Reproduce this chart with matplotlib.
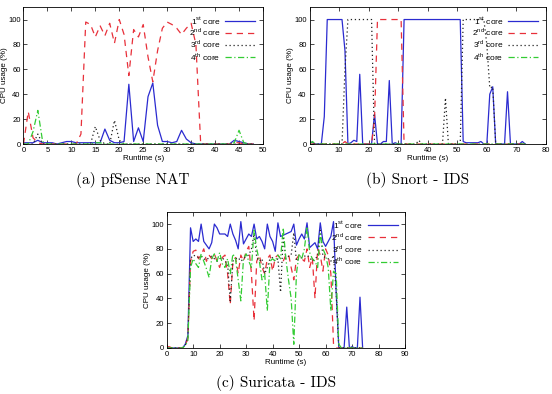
# CPU usage per core, three captured runs

import matplotlib
matplotlib.use('Agg')
import matplotlib.pyplot as plt

# pfSense NAT
pf_t = list(range(0, 49))
pf_c1 = [1, 1, 1, 3, 1, 1, 1, 0, 1, 2, 2, 1, 1, 1, 1, 1, 1, 12, 3, 1,
         1, 2, 48, 2, 13, 2, 38, 49, 15, 2, 2, 1, 2, 11, 4, 1, 0, 0, 0, 0,
         0, 0, 0, 0, 3, 2, 1, 0, 0]
pf_c2 = [0, 26, 5, 1, 0, 0, 0, 0, 0, 0, 0, 0, 8, 98, 96, 86, 95, 87, 97, 81,
         100, 88, 55, 92, 86, 96, 70, 50, 75, 93, 98, 96, 93, 88, 93, 97, 80, 0, 0, 0,
         0, 0, 0, 0, 1, 1, 0, 0, 0]
pf_c3 = [0, 0, 0, 8, 0, 0, 0, 0, 0, 0, 0, 0, 0, 0, 0, 14, 3, 0, 0, 19,
         3, 0, 0, 0, 0, 0, 0, 0, 0, 0, 0, 0, 0, 0, 0, 0, 0, 0, 0, 0,
         0, 0, 0, 0, 0, 0, 0, 0, 0]
pf_c4 = [0, 0, 10, 27, 2, 0, 0, 0, 0, 0, 0, 0, 0, 0, 0, 1, 1, 0, 0, 0,
         0, 0, 0, 0, 0, 0, 0, 0, 0, 0, 0, 0, 0, 0, 0, 0, 0, 0, 0, 0,
         0, 0, 0, 0, 1, 11, 1, 0, 0]

# Snort IDS
sn_t = list(range(0, 74))
sn_c1 = [2, 1, 0, 0, 0, 22, 100, 100, 100, 100, 100, 100, 75, 0, 1, 3, 2, 56, 0, 0,
         0, 0, 24, 0, 0, 2, 2, 51, 0, 1, 0, 0, 100, 100, 100, 100, 100, 100, 100, 100,
         100, 100, 100, 100, 100, 100, 100, 100, 100, 100, 100, 100, 2, 1, 1, 1, 1, 1, 2, 0,
         0, 40, 46, 0, 0, 0, 0, 42, 0, 0, 0, 0, 2, 0]
sn_c2 = [0, 0, 0, 0, 0, 0, 0, 0, 0, 0, 0, 0, 2, 0, 0, 0, 0, 0, 0, 0,
         0, 0, 20, 100, 100, 100, 100, 100, 100, 100, 100, 100, 0, 0, 0, 0, 0, 0, 0, 0,
         0, 0, 0, 0, 0, 0, 0, 0, 0, 0, 0, 0, 0, 0, 0, 0, 0, 0, 0, 0,
         0, 0, 0, 0, 0, 0, 0, 0, 0, 0, 0, 0, 0, 0]
sn_c3 = [0, 0, 0, 0, 0, 0, 0, 0, 0, 0, 0, 0, 60, 100, 100, 100, 100, 100, 100, 100,
         100, 100, 0, 0, 0, 0, 0, 0, 0, 0, 0, 0, 0, 0, 0, 0, 0, 3, 0, 0,
         0, 0, 0, 0, 0, 0, 37, 0, 0, 0, 0, 0, 100, 100, 100, 100, 100, 100, 100, 100,
         80, 45, 46, 0, 0, 0, 0, 0, 0, 0, 0, 0, 0, 0]
sn_c4 = [0, 2, 0, 0, 0, 0, 0, 0, 0, 0, 0, 0, 0, 0, 0, 0, 0, 0, 0, 0,
         0, 0, 0, 0, 0, 0, 0, 0, 0, 0, 0, 0, 0, 0, 0, 0, 0, 0, 0, 0,
         0, 0, 0, 0, 0, 0, 0, 0, 0, 0, 0, 0, 0, 0, 0, 0, 0, 0, 0, 0,
         0, 0, 0, 0, 0, 0, 0, 0, 0, 0, 0, 0, 0, 0]

# Suricata IDS
su_t = list(range(0, 75))
su_c1 = [0, 0, 0, 0, 0, 0, 0, 3, 10, 97, 86, 88, 86, 100, 86, 83, 80, 85, 100, 97,
         92, 92, 92, 90, 100, 92, 87, 80, 102, 84, 88, 92, 90, 100, 88, 90, 86, 80, 100, 90,
         86, 78, 101, 90, 91, 92, 93, 94, 100, 83, 88, 92, 88, 101, 81, 83, 85, 80, 101, 86,
         82, 86, 90, 102, 45, 0, 0, 0, 33, 0, 1, 0, 0, 41, 0]
su_c2 = [1, 1, 0, 0, 0, 0, 0, 2, 8, 70, 78, 79, 72, 75, 80, 70, 75, 72, 76, 70,
         65, 73, 75, 60, 35, 70, 73, 60, 75, 70, 78, 82, 60, 22, 70, 75, 65, 60, 72, 75,
         62, 73, 75, 72, 70, 75, 76, 65, 55, 72, 75, 72, 70, 80, 65, 73, 40, 80, 75, 62,
         80, 75, 60, 3, 0, 0, 0, 0, 0, 0, 0, 0, 0, 0, 0]
su_c3 = [0, 0, 0, 0, 0, 0, 0, 2, 8, 72, 75, 74, 73, 74, 72, 71, 73, 74, 72, 70,
         72, 73, 70, 68, 38, 70, 72, 73, 70, 72, 74, 75, 80, 92, 73, 70, 72, 60, 65, 72,
         73, 70, 72, 45, 90, 72, 74, 75, 93, 70, 72, 73, 74, 75, 73, 70, 72, 74, 95, 74,
         73, 72, 70, 75, 45, 0, 0, 0, 0, 0, 0, 0, 0, 0, 0]
su_c4 = [0, 0, 0, 0, 0, 0, 0, 2, 6, 65, 72, 68, 65, 76, 70, 64, 57, 72, 76, 70,
         77, 68, 65, 72, 60, 76, 72, 55, 38, 72, 76, 70, 65, 95, 80, 70, 55, 60, 30, 70,
         72, 70, 75, 72, 97, 72, 55, 40, 3, 60, 76, 72, 80, 98, 77, 72, 70, 65, 92, 80,
         75, 65, 30, 62, 60, 3, 0, 0, 0, 0, 0, 0, 0, 0, 0]

labels = ['1$^{\\mathrm{st}}$ core', '2$^{\\mathrm{nd}}$ core',
          '3$^{\\mathrm{rd}}$ core', '4$^{\\mathrm{th}}$ core']
styles = [dict(color='#2b2bd0', ls='-'),
          dict(color='#e8303a', ls=(0, (5, 4))),
          dict(color='#222222', ls=(0, (1, 2.2))),
          dict(color='#33cc33', ls=(0, (5, 2, 1, 2)))]

plt.rcParams['font.family'] = ['Liberation Sans', 'DejaVu Sans']
plt.rcParams['mathtext.fontset'] = 'custom'
plt.rcParams['mathtext.rm'] = 'Liberation Sans'

fig = plt.figure(figsize=(5.52, 3.94), dpi=100)


def draw(rect, t, cores, xmax, xstep):
    ax = fig.add_axes(rect)
    for y, st, lab in zip(cores, styles, labels):
        ax.plot(t, y, lw=0.9, label=lab, **st)
    ax.set_xlim(0, xmax)
    ax.set_ylim(0, 110)
    ax.set_xticks(range(0, xmax + 1, xstep))
    ax.set_yticks(range(0, 101, 20))
    ax.tick_params(direction='in', top=True, right=True, labelsize=5.5,
                   length=3, width=0.5, pad=2)
    for s in ax.spines.values():
        s.set_linewidth(0.6)
    ax.set_xlabel('Runtime (s)', fontsize=5.8, labelpad=1)
    ax.set_ylabel('CPU usage (%)', fontsize=5.8)
    # place the y label about 16 px left of the frame
    w = rect[2] * 552
    ax.yaxis.set_label_coords(-15.5 / w, 0.5)
    ax.legend(loc='upper right', frameon=False, markerfirst=False, fontsize=6,
              handlelength=3.6, handletextpad=0.6, labelspacing=0.05,
              borderaxespad=0.5)
    return ax


draw([0.0425, 0.6345, 0.4339, 0.3475], pf_t, [pf_c1, pf_c2, pf_c3, pf_c4], 50, 5)
draw([0.5607, 0.6345, 0.4283, 0.3475], sn_t, [sn_c1, sn_c2, sn_c3, sn_c4], 80, 10)
draw([0.302, 0.1168, 0.4317, 0.3459], su_t, [su_c1, su_c2, su_c3, su_c4], 90, 10)

cap = dict(fontsize=11, family='cmr10', ha='center', va='center')
fig.text(0.241, 0.543, '(a) pfSense NAT', **cap)
fig.text(0.757, 0.543, '(b) Snort - IDS', **cap)
fig.text(0.5, 0.028, '(c) Suricata - IDS', **cap)

fig.savefig('out.png', dpi=100)
